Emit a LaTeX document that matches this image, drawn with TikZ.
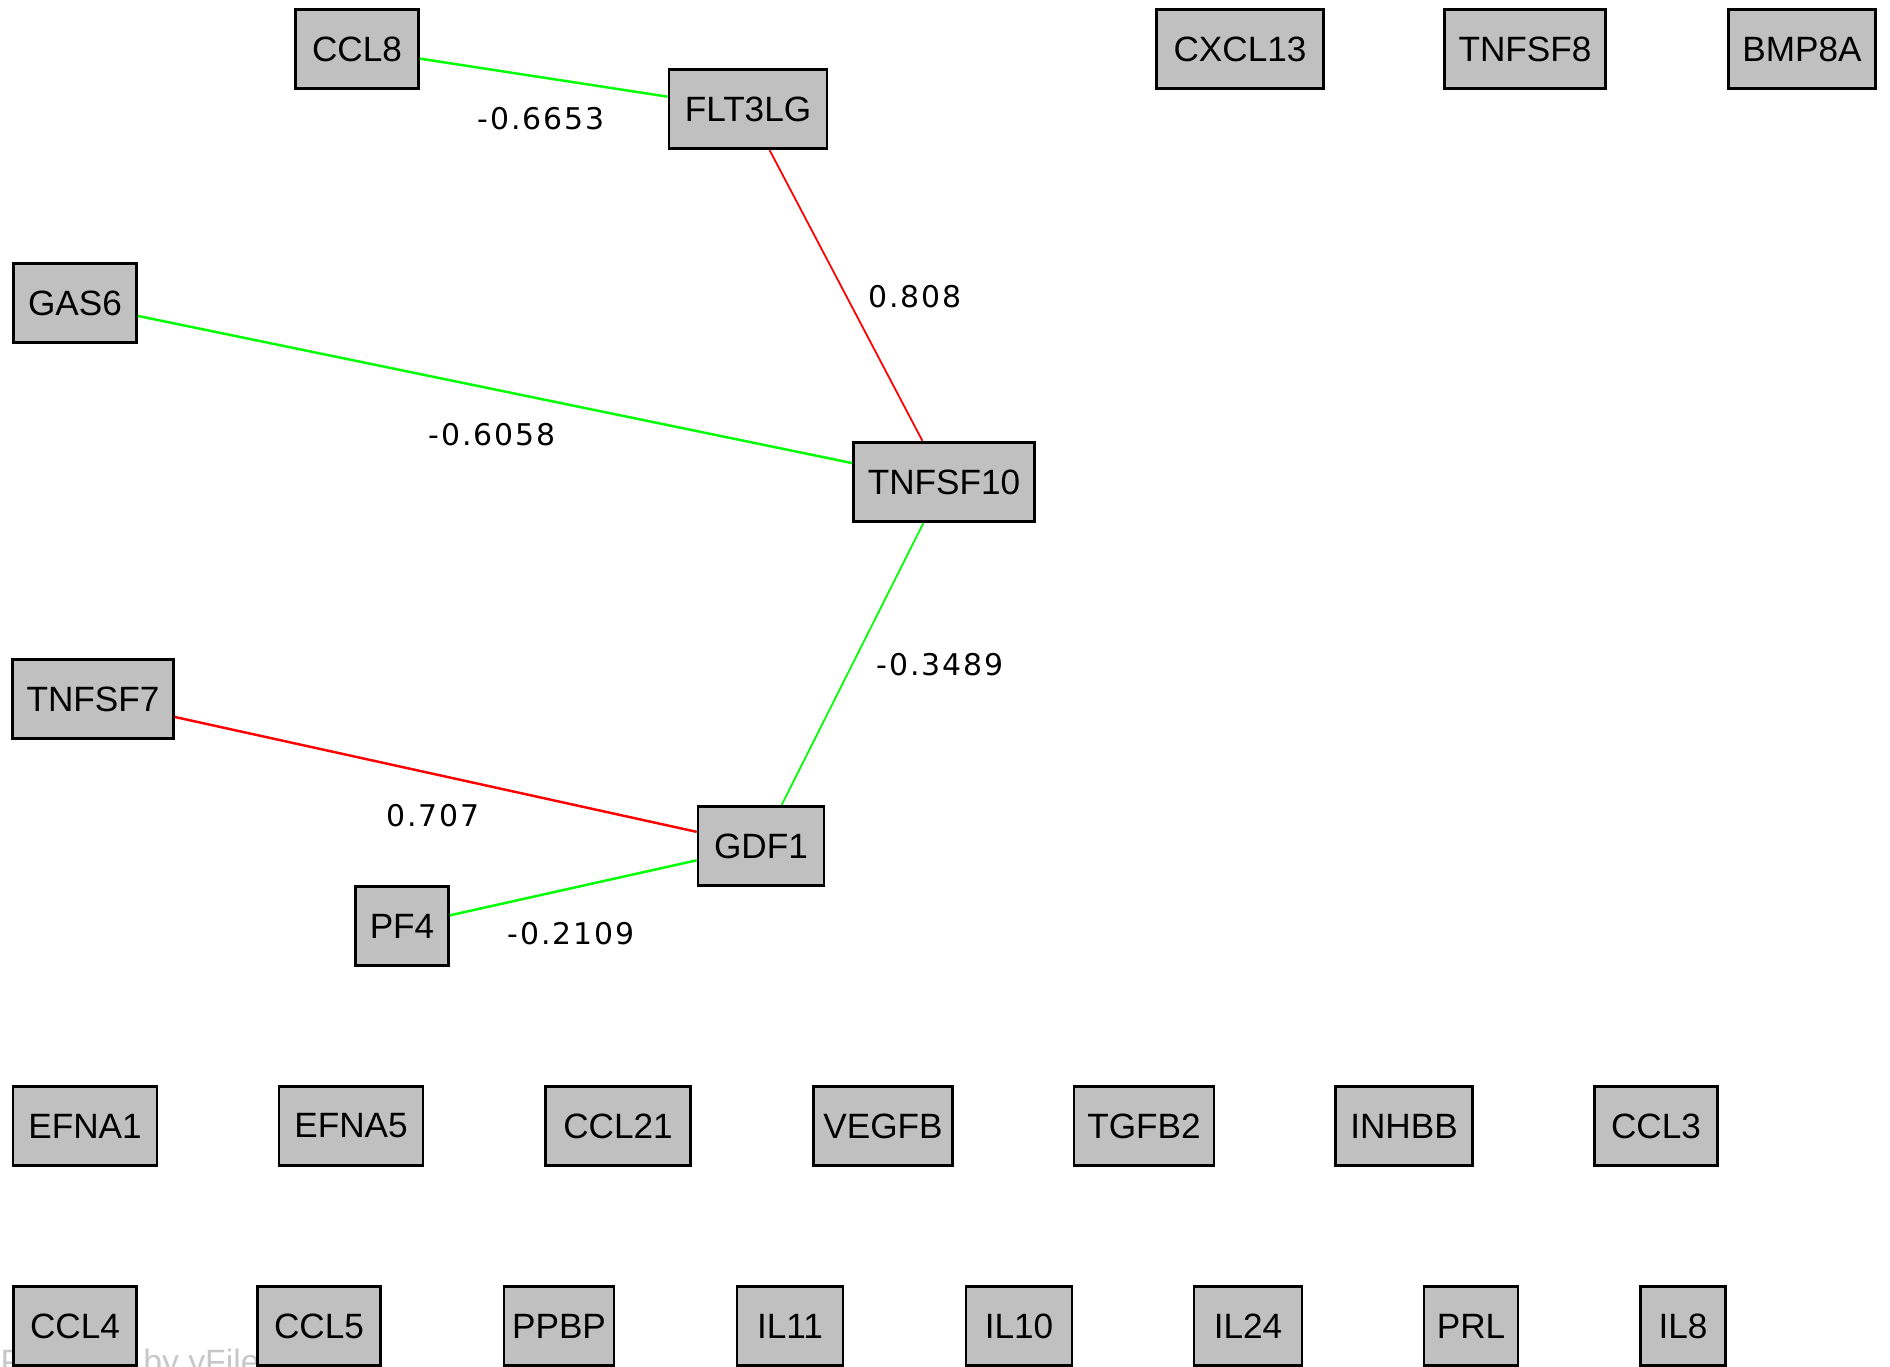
\documentclass[tikz,border=0pt]{standalone}
\usepackage{fontspec}
\setmainfont{Liberation Sans}
\newfontfamily\labelfont[LetterSpace=6]{DejaVu Sans}
\usepackage{tikz}
\definecolor{boxgray}{HTML}{C0C0C0}
\definecolor{posred}{HTML}{FF0000}
\definecolor{neggreen}{HTML}{00FF00}
\begin{document}
\begin{tikzpicture}[x=0.01cm,y=-0.01cm,
  gene/.style={draw=black,fill=boxgray,line width=0.75pt,minimum height=0.795cm,minimum width=#1,inner xsep=1pt,font=\fontsize{10}{12}\selectfont},
  weight/.style={font=\labelfont\fontsize{8.5}{10}\selectfont},
  poslink/.style={draw=posred},
  neglink/.style={draw=neggreen},
  wide/.style={line width=0.7pt},
  narrow/.style={line width=0.5pt}]
      \useasboundingbox (0,0) rectangle (1890,1367);
      \node [anchor=base west,inner sep=0,text=black!22,font=\fontsize{9.6}{11}\selectfont] (mark) at (0,1373) {Powered by yFiles};
      \node [gene=1.23cm] (ccl8) at (357,49) {CCL8};
      \node [gene=1.58cm] (flt3lg) at (748,109) {FLT3LG};
      \node [gene=1.67cm] (cxcl13) at (1240,49) {CXCL13};
      \node [gene=1.61cm] (tnfsf8) at (1525,49) {TNFSF8};
      \node [gene=1.47cm] (bmp8a) at (1802,49) {BMP8A};
      \node [gene=1.23cm] (gas6) at (75,303) {GAS6};
      \node [gene=1.81cm] (tnfsf10) at (944,482) {TNFSF10};
      \node [gene=1.61cm] (tnfsf7) at (93,699) {TNFSF7};
      \node [gene=1.26cm] (gdf1) at (761,846) {GDF1};
      \node [gene=0.93cm] (pf4) at (402,926) {PF4};
      \node [gene=1.44cm] (efna1) at (85,1126) {EFNA1};
      \node [gene=1.44cm] (efna5) at (351,1126) {EFNA5};
      \node [gene=1.45cm] (ccl21) at (618,1126) {CCL21};
      \node [gene=1.39cm] (vegfb) at (883,1126) {VEGFB};
      \node [gene=1.40cm] (tgfb2) at (1144,1126) {TGFB2};
      \node [gene=1.37cm] (inhbb) at (1404,1126) {INHBB};
      \node [gene=1.23cm] (ccl3) at (1656,1126) {CCL3};
      \node [gene=1.23cm] (ccl4) at (75,1326) {CCL4};
      \node [gene=1.23cm] (ccl5) at (319,1326) {CCL5};
      \node [gene=1.10cm] (ppbp) at (559,1326) {PPBP};
      \node [gene=1.06cm] (il11) at (790,1326) {IL11};
      \node [gene=1.06cm] (il10) at (1019,1326) {IL10};
      \node [gene=1.08cm] (il24) at (1248,1326) {IL24};
      \node [gene=0.94cm] (prl) at (1471,1326) {PRL};
      \node [gene=0.85cm] (il8) at (1683,1326) {IL8};
      \draw [neglink,wide] (ccl8) to (flt3lg);
      \draw [poslink,narrow] (flt3lg) to (tnfsf10);
      \draw [neglink,wide] (gas6) to (tnfsf10);
      \draw [neglink,narrow] (tnfsf10) to (gdf1);
      \draw [poslink,wide] (tnfsf7) to (gdf1);
      \draw [neglink,wide] (pf4) to (gdf1);
      \node [weight] (w1) at (541,119) {-0.6653};
      \node [weight] (w2) at (915,297) {0.808};
      \node [weight] (w3) at (492,435) {-0.6058};
      \node [weight] (w4) at (940,665) {-0.3489};
      \node [weight] (w5) at (433,816) {0.707};
      \node [weight] (w6) at (571,934) {-0.2109};
      \end{tikzpicture}
\end{document}
